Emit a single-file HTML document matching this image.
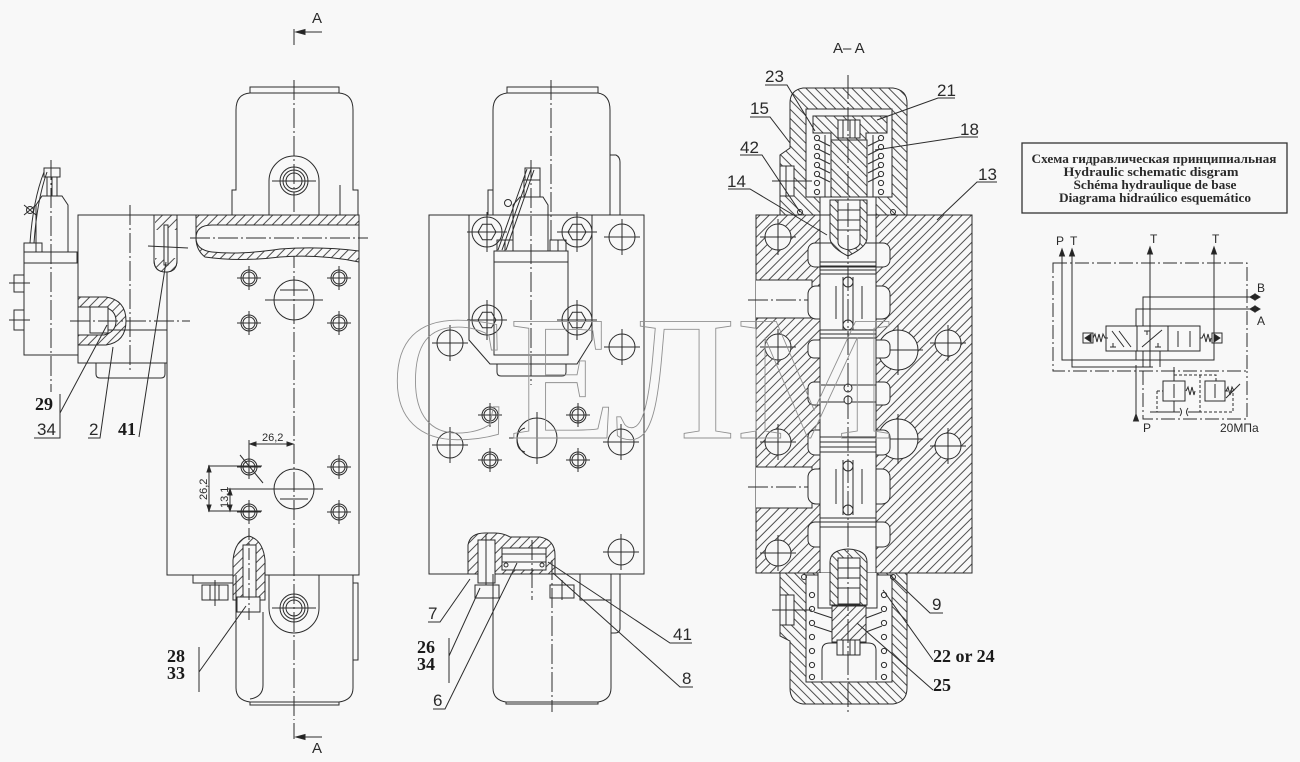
<!DOCTYPE html>
<html><head><meta charset="utf-8"><style>
html,body{margin:0;padding:0;background:#f8f8f8;}
svg{display:block}
text{font-family:"Liberation Sans",sans-serif;fill:#2a2a2a;stroke:none}
.b{font-family:"Liberation Serif",serif;font-weight:bold;font-size:18px;fill:#1a1a1a}
.n{font-size:17px}
</style></head><body>
<svg width="1300" height="762" viewBox="0 0 1300 762" xmlns="http://www.w3.org/2000/svg">
<defs>
<pattern id="hA" width="6.5" height="6.5" patternUnits="userSpaceOnUse" patternTransform="rotate(45)"><rect width="6.5" height="6.5" fill="#f8f8f8"/><line x1="0.5" y1="0" x2="0.5" y2="6.5" stroke="#3a3a3a" stroke-width="0.9"/></pattern>
<pattern id="hB" width="6.5" height="6.5" patternUnits="userSpaceOnUse" patternTransform="rotate(-45)"><rect width="6.5" height="6.5" fill="#f8f8f8"/><line x1="0.5" y1="0" x2="0.5" y2="6.5" stroke="#3a3a3a" stroke-width="0.9"/></pattern>
</defs>
<rect width="1300" height="762" fill="#f8f8f8"/>

<g fill="none" stroke="#2c2c2c" stroke-width="1">
<!-- ================= LEFT VIEW ================= -->
<path d="M294,29V45 M296,32H322 M294,723V739 M296,737H322"/>
<path d="M296,32l9,-2.5v5z M296,737l9,-2.5v5z" fill="#222"/>
<path d="M294,80V720" stroke-dasharray="20 3 2 3"/>
<!-- top housing -->
<path d="M232,215V190H236V110Q236,94 250,93V87H339V93Q353,94 353,110V190H358V215"/>
<path d="M250,93H339"/>
<path d="M269,215V181A25,25 0 0 1 319,181V215"/>
<circle cx="294" cy="181" r="14"/><circle cx="294" cy="181" r="11"/><circle cx="294" cy="181" r="8"/>
<path d="M272,181H316 M340,185V222"/>
<!-- blocks -->
<rect x="78" y="215" width="89" height="148"/>
<rect x="167" y="215" width="192" height="360"/>
<!-- bore -->
<path d="M196,215H359V262Q320,254 280,257Q240,262 205,257Q196,250 196,238Z" fill="url(#hA)"/>
<path d="M196,238Q196,225 212,225H359V251Q320,246 280,249Q240,255 212,252Q196,250 196,238Z" fill="#f8f8f8"/>
<path d="M190,238H368" stroke-dasharray="20 3 2 3"/>
<!-- slot -->
<path d="M154,215H177V260Q177,272 166,272Q154,272 154,260Z" fill="#f8f8f8"/>
<path d="M155,215H177V230H155Z" fill="url(#hA)" stroke="none"/>
<path d="M155,258H177V262Q177,272 166,272Q155,272 155,262Z" fill="url(#hA)" stroke="none"/>
<path d="M154,215H177V260Q177,272 166,272Q154,272 154,260Z"/>
<rect x="164" y="225" width="4" height="40" fill="#f8f8f8"/>
<path d="M148,246L188,248"/>
<!-- cutaway -->
<path d="M78,297H106Q126,300 126,321Q126,342 106,345H78Z" fill="url(#hA)"/>
<path d="M78,307H104Q116,310 116,321Q116,332 104,335H78Z" fill="#f8f8f8"/>
<rect x="90" y="307" width="18" height="26" fill="#f8f8f8"/>
<path d="M70,321H190" stroke-dasharray="20 3 2 3"/>
<path d="M108,330H167"/>
<path d="M130,205V372" stroke-dasharray="20 3 2 3"/>
<path d="M96,363V374Q96,378 100,378H161Q165,378 165,374V363"/>
<!-- left solenoid -->
<rect x="24" y="263" width="54" height="92"/>
<rect x="14" y="275" width="10" height="17"/><path d="M9,283H30"/>
<rect x="14" y="310" width="10" height="20"/><path d="M9,320H30"/>
<rect x="24" y="252" width="53" height="11"/>
<path d="M36,252V205L42,196H62L68,205V252"/>
<rect x="24" y="243" width="18" height="9"/>
<rect x="44" y="168" width="16" height="9"/>
<path d="M47,177V196M57,177V196M52,177V196"/>
<path d="M44,172Q33,200 30,243 M47,172Q37,200 34,243"/>
<circle cx="30" cy="210" r="3.5"/><path d="M24,205L36,215 M24,215L36,205"/>
<path d="M51,160V392" stroke-dasharray="20 3 2 3"/>
<!-- holes upper -->
<g>
<circle cx="249" cy="278" r="8"/><circle cx="249" cy="278" r="6"/>
<circle cx="339" cy="278" r="8"/><circle cx="339" cy="278" r="6"/>
<circle cx="249" cy="323" r="8"/><circle cx="249" cy="323" r="6"/>
<circle cx="339" cy="323" r="8"/><circle cx="339" cy="323" r="6"/>
<path d="M237,278H261M249,266V290M327,278H351M339,266V290M237,323H261M249,311V335M327,323H351M339,311V335"/>
<circle cx="294" cy="300" r="20"/>
<path d="M265,300H323 M280,290H308"/>
<circle cx="249" cy="467" r="8"/><circle cx="249" cy="467" r="6"/>
<circle cx="339" cy="467" r="8"/><circle cx="339" cy="467" r="6"/>
<circle cx="249" cy="512" r="8"/><circle cx="249" cy="512" r="6"/>
<circle cx="339" cy="512" r="8"/><circle cx="339" cy="512" r="6"/>
<path d="M237,467H261M249,440V479M327,467H351M339,455V479M237,512H261M249,500V524M327,512H351M339,500V524"/>
<circle cx="294" cy="489" r="20"/>
<path d="M228,489H323 M280,499H308"/>
</g>
<!-- dimensions -->
<path d="M250,444H293 M208,466H262 M208,511H262 M209,466V511 M230,489V511 M240,455L263,483"/>
<path d="M250,444l6,-2v4z M293,444l-6,-2v4z M209,466l-2,6h4z M209,511l-2,-6h4z M230,489l-2,6h4z M230,511l-2,-6h4z" fill="#222"/>
<text x="262" y="441" font-size="11">26,2</text>
<text transform="translate(207,500) rotate(-90)" font-size="11">26,2</text>
<text transform="translate(228,508) rotate(-90)" font-size="11">13,1</text>
<!-- bottom bolt -->
<path d="M233,600V560Q235,540 249,536Q263,540 265,560V600Z" fill="url(#hA)"/>
<rect x="243" y="545" width="13" height="52" fill="#f8f8f8"/>
<rect x="237" y="597" width="23" height="15" fill="#f8f8f8"/>
<path d="M249,528V620" stroke-dasharray="12 3 2 3"/>
<rect x="202" y="585" width="26" height="15"/><path d="M210,585V600M219,585V600M215,580V606"/>
<path d="M193,575V583H233"/>
<!-- bottom housing -->
<path d="M236,575V688Q236,700 250,702V705H339V702Q353,700 353,688V575"/>
<path d="M250,702H339 M263,612V685Q263,697 250,699 M353,583H358V660H353"/>
<path d="M269,575V608A25,25 0 0 0 319,608V575"/>
<circle cx="294" cy="608" r="14"/><circle cx="294" cy="608" r="11"/><circle cx="294" cy="608" r="8"/>
<path d="M272,608H316"/>
<!-- left labels leaders -->
<path d="M60,394V438H34 M60,413L107,325 M88,438H100L113,347 M139,437L166,262 M199,647V692 M199,672L246,606"/>

<!-- ================= MIDDLE VIEW ================= -->
<path d="M493,215V110Q493,95 507,93V87H598V93Q610,95 610,110V215 M507,93H598 M610,155H616Q620,157 620,162V215 M488,215V190H493"/>
<path d="M551,80V240" stroke-dasharray="20 3 2 3"/>
<rect x="429" y="215" width="215" height="359"/>
<path d="M469,215V340L490,364H577L592,340V215 M497,364V372Q497,376 501,376H562Q566,376 566,372V364"/>
<!-- solenoid -->
<rect x="494" y="262" width="74" height="93" fill="#f8f8f8"/>
<rect x="494" y="251" width="74" height="11" fill="#f8f8f8"/>
<path d="M513,251V205L520,197H543L548,205V251"/>
<rect x="524" y="180" width="16" height="17"/><rect x="525" y="168" width="15" height="12"/>
<path d="M527,169L498,250 M531,169L502,250 M534,170L506,250"/>
<circle cx="508" cy="203" r="3.5"/>
<rect x="497" y="240" width="16" height="11"/><rect x="550" y="240" width="16" height="11"/>
<path d="M505,240V251M558,240V251"/>
<path d="M531,160V385" stroke-dasharray="20 3 2 3"/>
<!-- bolt holes -->
<circle cx="487" cy="232" r="15"/><circle cx="577" cy="232" r="15"/><circle cx="487" cy="320" r="15"/><circle cx="577" cy="320" r="15"/>
<polygon points="496,232 491.5,239.8 482.5,239.8 478,232 482.5,224.2 491.5,224.2"/>
<polygon points="586,232 581.5,239.8 572.5,239.8 568,232 572.5,224.2 581.5,224.2"/>
<polygon points="496,320 491.5,327.8 482.5,327.8 478,320 482.5,312.2 491.5,312.2"/>
<polygon points="586,320 581.5,327.8 572.5,327.8 568,320 572.5,312.2 581.5,312.2"/>
<path d="M467,232H507M487,212V252M557,232H597M577,212V252M467,320H507M487,300V340M557,320H597M577,300V340"/>
<circle cx="622" cy="237" r="13"/><circle cx="450" cy="343" r="13"/><circle cx="622" cy="347" r="13"/>
<circle cx="450" cy="445" r="13"/><circle cx="621" cy="442" r="13"/><circle cx="621" cy="552" r="13"/>
<path d="M604,237H640M622,219V255M432,343H468M450,325V361M604,347H640M622,329V365M432,445H468M450,427V463M603,442H639M621,424V460M603,552H639M621,534V570"/>
<circle cx="490" cy="415" r="8"/><circle cx="490" cy="415" r="6"/><circle cx="578" cy="415" r="8"/><circle cx="578" cy="415" r="6"/>
<circle cx="490" cy="460" r="8"/><circle cx="490" cy="460" r="6"/><circle cx="578" cy="460" r="8"/><circle cx="578" cy="460" r="6"/>
<path d="M478,415H502M490,403V427M566,415H590M578,403V427M478,460H502M490,448V472M566,460H590M578,448V472"/>
<circle cx="537" cy="438" r="20"/>
<path d="M509,438H565M537,412V464 M525,428Q517,430 517,440Q517,450 525,452"/>
<!-- bottom cutaway -->
<path d="M468,574V545Q470,533 485,533H495Q503,533 510,537H540Q555,540 555,555V574Z" fill="url(#hA)"/>
<rect x="478" y="540" width="17" height="43" fill="#f8f8f8"/>
<rect x="502" y="548" width="44" height="22" fill="#f8f8f8"/>
<path d="M502,554H546 M502,562H546 M486,534V585"/>
<circle cx="506" cy="565" r="2"/><circle cx="542" cy="565" r="2"/>
<rect x="475" y="585" width="24" height="13"/><rect x="550" y="585" width="24" height="13"/>
<path d="M562,580V600 M580,574V600H611"/>
<path d="M493,574V688Q493,700 506,702V704H598V702Q611,700 611,688V574 M506,702H598 M611,574H620V628Q620,633 615,633H611"/>
<path d="M552,560V712 M532,540V600" stroke-dasharray="20 3 2 3"/>
<!-- middle leaders -->
<path d="M428,622H440L470,579 M449,638V683 M449,656L480,588 M433,709H445L517,563 M692,643H670L548,562 M693,687H680L553,573"/>

<!-- ================= SECTION A-A ================= -->
<rect x="756" y="215" width="216" height="358" fill="url(#hA)"/>
<!-- body holes -->
<g fill="#f8f8f8">
<circle cx="778" cy="237" r="13"/><circle cx="778" cy="347" r="13"/><circle cx="778" cy="442" r="13"/><circle cx="778" cy="553" r="13"/>
<circle cx="898" cy="350" r="20"/><circle cx="948" cy="343" r="13"/><circle cx="898" cy="439" r="20"/><circle cx="948" cy="446" r="13"/>
</g>
<path d="M760,237H796M778,219V255M760,347H796M778,329V365M760,442H796M778,424V460M760,553H796M778,535V571M873,350H923M898,325V375M930,343H966M948,325V361M873,439H923M898,414V464M930,446H966M948,428V464"/>
<!-- ports -->
<path d="M756,280H812V318H756" fill="#f8f8f8"/>
<path d="M756,467H812V508H756" fill="#f8f8f8"/>
<path d="M748,300H818 M748,487H818" stroke-dasharray="20 3 2 3"/>
<!-- chambers -->
<g fill="#f8f8f8">
<rect x="808" y="243" width="82" height="24" rx="7"/>
<rect x="808" y="286" width="82" height="33" rx="8"/>
<rect x="808" y="340" width="82" height="18" rx="6"/>
<rect x="808" y="382" width="82" height="23" rx="6"/>
<rect x="808" y="430" width="82" height="25" rx="7"/>
<rect x="808" y="469" width="82" height="35" rx="8"/>
<rect x="808" y="522" width="82" height="25" rx="7"/>
</g>
<rect x="820" y="197" width="56" height="378" fill="#f8f8f8" stroke="none"/>
<path d="M820,215V575 M876,215V575"/>
<!-- spool grooves -->
<path d="M820,262H876M820,266H876M820,270H876M820,274H876 M820,330H876M820,334H876M820,338H876 M820,437H876M820,442H876M820,447H876M820,452H876 M820,518H876M820,522H876M820,527H876"/>
<path d="M820,243H836M862,243H876 M820,267H876 M836,286V319 M862,286V319 M836,469V504 M862,469V504 M821,385H876M821,402H876"/>
<path d="M843,277V330 M853,277V330 M843,460V515 M853,460V515"/>
<circle cx="848" cy="282" r="5" fill="#f8f8f8"/><circle cx="848" cy="325" r="5" fill="#f8f8f8"/>
<circle cx="848" cy="466" r="5" fill="#f8f8f8"/><circle cx="848" cy="510" r="5" fill="#f8f8f8"/>
<circle cx="848" cy="388" r="4" fill="#f8f8f8"/><circle cx="848" cy="400" r="4" fill="#f8f8f8"/>
<!-- top cap -->
<path d="M780,215V155L790,148V103Q790,90 803,88H893Q907,90 907,103V215Z" fill="url(#hB)"/>
<path d="M806,109H892V197H876V215H820V197H806Z" fill="#f8f8f8"/>
<path d="M813,116H887V133H866V140H831V133H813Z" fill="url(#hB)"/>
<rect x="838" y="120" width="22" height="18" fill="#f8f8f8"/>
<path d="M843,120V138M850,120V138M855,120V138"/>
<rect x="831" y="140" width="36" height="57" fill="url(#hB)"/>
<path d="M825,135V197 M873,135V197 M820,197H876"/>
<g fill="#f8f8f8">
<circle cx="817" cy="138" r="2.6"/><circle cx="817" cy="147" r="2.6"/><circle cx="817" cy="156" r="2.6"/><circle cx="817" cy="165" r="2.6"/><circle cx="817" cy="174" r="2.6"/><circle cx="817" cy="183" r="2.6"/><circle cx="817" cy="192" r="2.6"/>
<circle cx="881" cy="138" r="2.6"/><circle cx="881" cy="147" r="2.6"/><circle cx="881" cy="156" r="2.6"/><circle cx="881" cy="165" r="2.6"/><circle cx="881" cy="174" r="2.6"/><circle cx="881" cy="183" r="2.6"/><circle cx="881" cy="192" r="2.6"/>
</g>
<path d="M818,140L830,146M818,149L830,155M818,158L830,164M818,167L830,173M818,176L830,182M868,146L880,140M868,155L880,149M868,164L880,158M868,173L880,167M868,182L880,176"/>
<rect x="780" y="166" width="14" height="30" fill="#f8f8f8"/>
<path d="M772,181H812 M786,166V196"/>
<circle cx="800" cy="212" r="2.5"/><circle cx="893" cy="212" r="2.5"/>
<!-- spool top plug -->
<path d="M830,200H867V238Q867,247 848,256Q830,247 830,238Z" fill="url(#hB)"/>
<path d="M838,200H860V242Q860,248 849,250Q838,248 838,242Z" fill="#f8f8f8"/>
<path d="M838,210H860M838,220H860M838,230H860"/>
<!-- bottom cap -->
<path d="M780,573V636L790,641V688Q790,702 803,704H893Q907,702 907,688V573Z" fill="url(#hB)"/>
<path d="M806,575H892V682H806Z" fill="#f8f8f8"/>
<path d="M818,573V608H832V640H866V608H877V573" fill="#f8f8f8"/>
<rect x="832" y="606" width="34" height="36" fill="url(#hA)"/>
<path d="M822,680V650Q822,643 830,643H868Q876,643 876,650V680" />
<rect x="837" y="640" width="23" height="15" fill="#f8f8f8"/>
<path d="M843,640V655M850,640V655M855,640V655"/>
<path d="M830,605V562Q830,550 848,549Q867,550 867,562V605Z" fill="url(#hB)"/>
<rect x="838" y="558" width="22" height="46" fill="#f8f8f8"/>
<path d="M838,568H860M838,578H860M838,588H860"/>
<g fill="#f8f8f8">
<circle cx="812" cy="595" r="2.6"/><circle cx="812" cy="609" r="2.6"/><circle cx="812" cy="623" r="2.6"/><circle cx="812" cy="637" r="2.6"/><circle cx="812" cy="651" r="2.6"/><circle cx="812" cy="665" r="2.6"/><circle cx="812" cy="677" r="2.6"/>
<circle cx="884" cy="595" r="2.6"/><circle cx="884" cy="609" r="2.6"/><circle cx="884" cy="623" r="2.6"/><circle cx="884" cy="637" r="2.6"/><circle cx="884" cy="651" r="2.6"/><circle cx="884" cy="665" r="2.6"/><circle cx="884" cy="677" r="2.6"/>
</g>
<path d="M814,612L832,618M814,626L832,632M866,618L882,612M866,632L882,626"/>
<rect x="780" y="595" width="14" height="30" fill="#f8f8f8"/>
<path d="M772,610H812 M786,595V625"/>
<circle cx="804" cy="577" r="2.5"/><circle cx="893" cy="577" r="2.5"/>
<path d="M848,75V712" stroke-dasharray="24 3 2 3"/>
<!-- section leaders -->
<path d="M765,85H787L815,131 M955,98H938L877,120 M750,117H770L790,143 M978,137H960L875,150 M740,155H762L800,212 M728,189H750L827,235 M997,182H977L937,220 M943,613H930L890,575 M933,660L883,590 M933,690L857,623"/>

<!-- ================= LEGEND ================= -->
<rect x="1022" y="143" width="265" height="70" stroke="#333" stroke-width="1.3"/>

<!-- ================= SCHEMATIC ================= -->
<path d="M1053,263H1247V371H1053Z" stroke-dasharray="14 3 2 3"/>
<path d="M1143,371V419H1247V371" stroke-dasharray="14 3 2 3"/>
<path d="M1062,254V360H1214V252 M1072,254V367H1153 M1150,252V367 M1143,326V297H1250 M1136,326V309H1250 M1136,351V360 M1143,351V367 M1160,351V367"/>
<path d="M1062,249l-2.5,7h5z M1072,249l-2.5,7h5z M1150,247l-2.5,7h5z M1214,247l-2.5,7h5z M1136,414l-2.5,7h5z M1250,297l5,-3v6z M1260,297l-5,-3v6z M1250,309l5,-3v6z M1260,309l-5,-3v6z" fill="#222"/>
<rect x="1106" y="326" width="94" height="25"/>
<path d="M1137,326V351 M1168,326V351"/>
<path d="M1112,331L1124,347 M1119,331L1131,347 M1142,347L1162,330 M1144,331H1150M1147,331V335 M1155,347H1161M1158,347V343 M1178,331V347 M1190,331V347 M1110,347H1116M1113,347V343"/>
<rect x="1083" y="333" width="10" height="10"/><path d="M1085,338l6,-4v8z" fill="#222"/>
<path d="M1093,338l2,-4 2,8 2,-8 2,8 2,-8 2,4h3"/>
<path d="M1200,338h2l2,-4 2,8 2,-8 2,8 1,-4"/>
<rect x="1212" y="333" width="10" height="10"/><path d="M1220,338l-6,-4v8z" fill="#222"/>
<path d="M1136,421V365"/>
<path d="M1174,367V381 M1150,412H1180 M1188,412H1200 M1174,401V412"/>
<path d="M1180,408q3,4 0,8 M1188,408q-3,4 0,8"/>
<rect x="1163" y="381" width="22" height="20"/><path d="M1174,384V398"/>
<rect x="1205" y="381" width="20" height="20"/><path d="M1215,384V398"/>
<path d="M1186,391l2,-4 2,8 2,-8 2,8 1,-4 M1226,391l2,-4 2,8 2,-8 2,4 M1226,398L1240,384"/>
<path d="M1157,391V412 M1157,391H1163 M1174,375H1216V381 M1225,391H1233V412H1200 M1200,375V412" stroke-dasharray="3 2"/>
</g>

<!-- ================= TEXT ================= -->
<text x="312" y="23" font-size="15">A</text>
<text x="312" y="753" font-size="15">A</text>
<text class="b" x="35" y="410">29</text>
<text class="n" x="37" y="435">34</text>
<text class="n" x="89" y="435">2</text>
<text class="b" x="118" y="435">41</text>
<text class="b" x="167" y="662">28</text>
<text class="b" x="167" y="679">33</text>

<text class="n" x="428" y="619">7</text>
<text class="b" x="417" y="653">26</text>
<text class="b" x="417" y="670">34</text>
<text class="n" x="433" y="706">6</text>
<text class="n" x="673" y="640">41</text>
<text class="n" x="682" y="684">8</text>

<text x="833" y="53" font-size="15">A– A</text>
<text class="n" x="765" y="82">23</text>
<text class="n" x="937" y="96">21</text>
<text class="n" x="750" y="114">15</text>
<text class="n" x="960" y="135">18</text>
<text class="n" x="740" y="153">42</text>
<text class="n" x="727" y="187">14</text>
<text class="n" x="978" y="180">13</text>
<text class="n" x="932" y="610">9</text>
<text class="b" x="933" y="662">22 or 24</text>
<text class="b" x="933" y="691">25</text>

<g font-family="Liberation Serif, serif" font-weight="bold" font-size="12.5" text-anchor="middle">
<text x="1154" y="163" style="font-family:'Liberation Serif',serif" textLength="245" lengthAdjust="spacingAndGlyphs">Схема гидравлическая принципиальная</text>
<text x="1151" y="176" style="font-family:'Liberation Serif',serif" textLength="175" lengthAdjust="spacingAndGlyphs">Hydraulic schematic disgram</text>
<text x="1155" y="189" style="font-family:'Liberation Serif',serif" textLength="163" lengthAdjust="spacingAndGlyphs">Schéma hydraulique de base</text>
<text x="1155" y="202" style="font-family:'Liberation Serif',serif" textLength="192" lengthAdjust="spacingAndGlyphs">Diagrama hidraúlico esquemático</text>
</g>

<text x="1056" y="245" font-size="12">P</text>
<text x="1070" y="245" font-size="12">T</text>
<text x="1150" y="243" font-size="12">T</text>
<text x="1212" y="243" font-size="12">T</text>
<text x="1257" y="292" font-size="12">B</text>
<text x="1257" y="325" font-size="12">A</text>
<text x="1143" y="432" font-size="12">P</text>
<text x="1220" y="432" font-size="12">20МПа</text>

<!-- watermark -->
<text x="390" y="438" font-size="178" style="font-family:'Liberation Serif',serif;fill:none;stroke:#909090;stroke-width:0.9">СЕЛМ</text>
</svg>
</body></html>
